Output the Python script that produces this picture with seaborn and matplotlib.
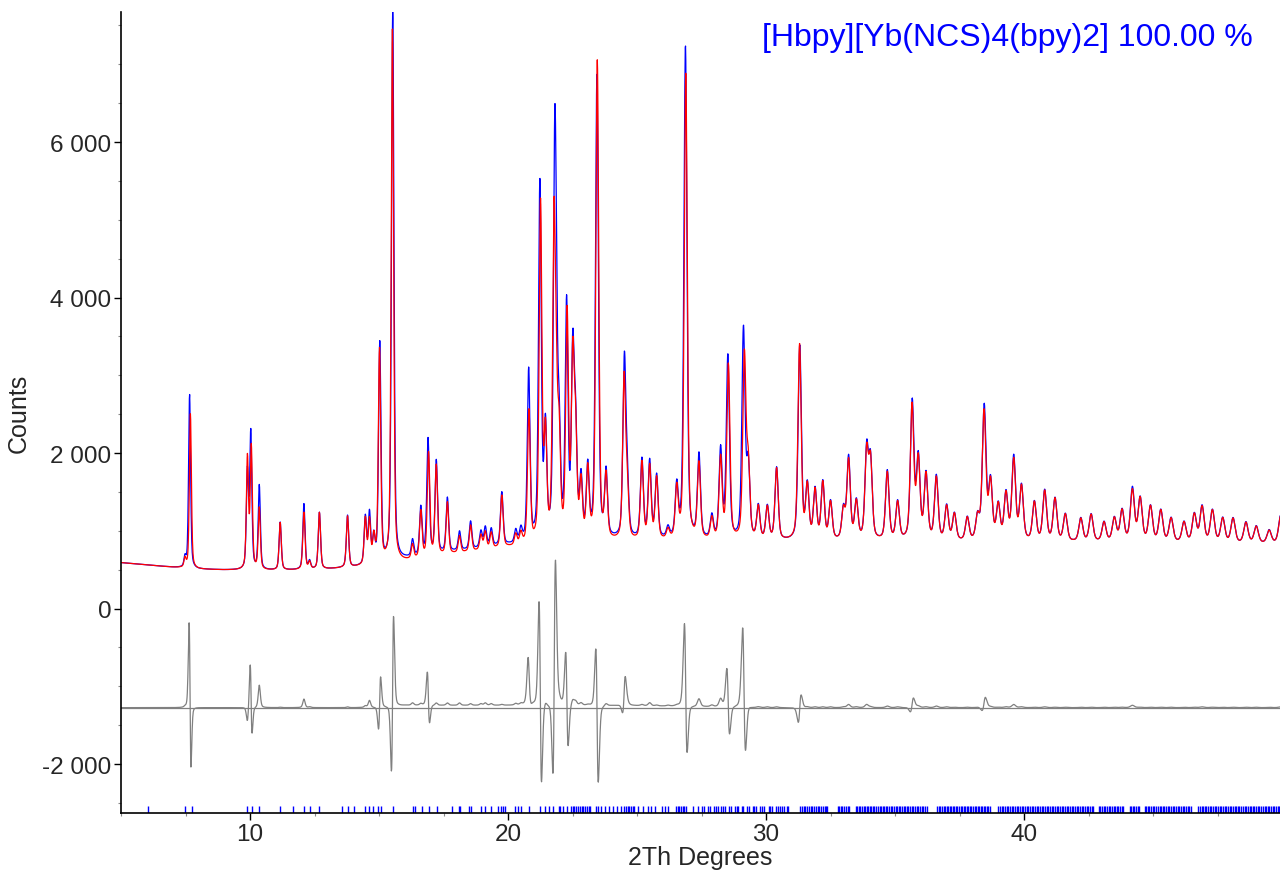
import numpy as np
import pandas as pd
import matplotlib
matplotlib.use("Agg")
import matplotlib.pyplot as plt
import seaborn as sns
from matplotlib.ticker import MultipleLocator, FuncFormatter

# ---------------- data ----------------
bg_x = [5, 6, 7, 8, 9, 10, 11, 12, 13, 14, 15, 16, 17, 18, 19, 20, 21, 22, 23,
        24, 26, 28, 30, 32, 34, 36, 38, 40, 42, 44, 46, 48, 50]
bg_calc = [590, 560, 530, 505, 495, 490, 490, 495, 505, 525, 560, 600, 650, 700,
           740, 780, 800, 820, 840, 850, 860, 860, 860, 860, 860, 860, 850, 850,
           850, 850, 840, 830, 830]
bg_obs = [590, 560, 530, 505, 495, 490, 490, 495, 505, 525, 565, 630, 680, 730,
          770, 810, 830, 850, 870, 880, 880, 870, 860, 860, 860, 860, 850, 850,
          850, 850, 840, 830, 830]

# peak position (2Th), observed top, calculated top, observed shift
peak_pos = [7.48, 7.69, 9.90, 10.05, 10.36, 11.17, 12.09, 12.31, 12.69, 13.78,
            14.47, 14.63, 14.80, 15.02, 15.52, 16.30, 16.62, 16.92, 17.22, 17.65,
            18.12, 18.55, 18.95, 19.12, 19.35, 19.76, 20.30, 20.50, 20.81, 21.26,
            21.45, 21.78, 21.87, 21.98, 22.29, 22.51, 22.62, 22.83, 23.09, 23.46,
            23.80, 24.50, 24.62, 25.19, 25.49, 25.76, 26.20, 26.54, 26.89, 27.40,
            27.90, 28.24, 28.54, 29.16, 29.31, 29.70, 30.05, 30.41,
            31.30, 31.60, 31.90, 32.20, 32.50, 33.00, 33.20, 33.50, 33.90, 34.05,
            34.70, 35.10, 35.66, 35.90, 36.20, 36.60, 37.00, 37.30, 37.80, 38.20,
            38.45, 38.70, 39.00, 39.30, 39.60, 39.90, 40.40, 40.80, 41.20, 41.60,
            42.20, 42.60, 43.10, 43.50, 43.80, 44.20, 44.50, 44.90, 45.30, 45.70,
            46.20, 46.60, 46.90, 47.30, 47.70, 48.10, 48.60, 49.00, 49.50, 49.95]
peak_obs = [640, 2750, 1720, 2230, 1570, 1105, 1340, 600, 1230, 1190,
            1150, 1190, 880, 3380, 7670, 830, 1250, 2130, 1850, 1380,
            950, 1080, 950, 1000, 980, 1450, 950, 960, 3000, 5400,
            2200, 5300, 2500, 2100, 3800, 3150, 2150, 1580, 1730, 6800,
            1680, 3110, 1530, 1865, 1840, 1660, 990, 1510, 7200, 1930,
            1150, 2000, 3200, 3550, 1800, 1290, 1290, 1790,
            3350, 1550, 1500, 1600, 1350, 1250, 1920, 1350, 2000, 1850,
            1750, 1350, 2630, 1900, 1700, 1680, 1300, 1200, 1150, 1150,
            2570, 1600, 1300, 1450, 1920, 1550, 1350, 1500, 1400, 1200,
            1150, 1200, 1100, 1150, 1250, 1530, 1400, 1300, 1250, 1150,
            1100, 1200, 1300, 1250, 1150, 1150, 1100, 1050, 1000, 1200]
peak_calc = [630, 2500, 1920, 2050, 1280, 1100, 1230, 590, 1230, 1180,
             1130, 1100, 880, 3300, 7430, 800, 1230, 1980, 1820, 1350,
             920, 1060, 930, 970, 960, 1440, 930, 940, 2500, 5150,
             2150, 4700, 2300, 2050, 3700, 3080, 2100, 1550, 1720, 7000,
             1650, 2910, 1500, 1850, 1800, 1650, 980, 1500, 6850, 1830,
             1130, 1900, 3100, 3200, 1780, 1280, 1280, 1780,
             3370, 1540, 1490, 1590, 1340, 1240, 1880, 1340, 1960, 1840,
             1730, 1340, 2580, 1880, 1690, 1660, 1290, 1195, 1145, 1145,
             2500, 1590, 1295, 1440, 1880, 1540, 1345, 1490, 1395, 1195,
             1145, 1195, 1095, 1145, 1245, 1500, 1395, 1295, 1245, 1145,
             1095, 1195, 1290, 1245, 1145, 1145, 1095, 1045, 995, 1190]
peak_shift = [0, -0.032, 0, -0.02, 0, 0, 0, 0, 0, 0,
              0, 0, 0, 0.01, 0.012, 0, 0, -0.02, 0, 0,
              0, 0, 0, 0, 0, 0, 0, 0, -0.01, -0.025,
              0, 0.03, 0, 0, -0.02, 0, 0, 0, 0, -0.014,
              0, 0.01, 0, 0, 0, 0, 0, 0, -0.014, 0,
              0, 0, -0.02, -0.035, 0, 0, 0, 0,
              0.008, 0, 0, 0, 0, 0, 0, 0, 0, 0,
              0, 0, 0.006, 0, 0, 0, 0, 0, 0, 0,
              0.006, 0, 0, 0, 0, 0, 0, 0, 0, 0,
              0, 0, 0, 0, 0, 0, 0, 0, 0, 0,
              0, 0, 0, 0, 0, 0, 0, 0, 0, 0]

hkl_ticks = [
    6.04, 7.48, 7.74, 9.90, 10.09, 10.36, 11.17, 11.65, 12.09, 12.31, 12.69,
    13.56, 13.80, 14.02, 14.47, 14.61, 14.76, 14.98, 15.06, 15.53, 16.32, 16.39,
    16.65, 16.94, 17.24, 17.83, 18.10, 18.14, 18.49, 18.57, 18.95, 19.09, 19.34,
    19.61, 19.73, 19.81, 19.88, 20.28, 20.40, 20.50, 20.80, 21.24, 21.42, 21.57,
    21.76, 21.96, 22.03, 22.12, 22.29, 22.43, 22.50, 22.56, 22.63, 22.70, 22.78,
    22.85, 22.91, 22.98, 23.05, 23.12, 23.17, 23.40, 23.47, 23.62, 23.74, 23.91,
    24.06, 24.21, 24.36, 24.51, 24.58, 24.64, 24.70, 24.77, 24.83, 24.88, 25.05,
    25.22, 25.43, 25.56, 25.70, 25.95, 26.08, 26.21, 26.51, 26.58, 26.64, 26.71,
    26.77, 26.83, 26.88, 27.15, 27.36, 27.52, 27.60, 27.75, 27.83, 27.98, 28.05,
    28.12, 28.27, 28.35, 28.42, 28.56, 28.63, 28.78, 28.86, 28.93, 29.05, 29.12,
    29.25, 29.33, 29.48, 29.55, 29.62, 29.78, 29.86, 29.93, 30.10, 30.17, 30.25,
    30.38, 30.46, 30.55, 30.63, 30.71, 30.80, 30.86,
    31.33, 31.40, 31.46, 31.52, 31.60, 31.66, 31.73, 31.80, 31.86, 31.93, 32.00,
    32.06, 32.14, 32.20, 32.27, 32.33, 32.37,
    32.77, 32.83, 32.90, 32.96, 33.03, 33.10, 33.16, 33.22,
    33.48, 33.54, 33.60, 33.66, 33.72, 33.78, 33.84, 33.90, 33.96, 34.02, 34.08,
    34.14, 34.20, 34.26, 34.33, 34.40, 34.46, 34.52, 34.58, 34.64, 34.70, 34.77,
    34.83, 34.90, 34.96, 35.02, 35.08, 35.15, 35.21, 35.27, 35.33, 35.40, 35.46,
    35.52, 35.58, 35.65, 35.71, 35.78, 35.84, 35.90, 35.96, 36.03, 36.09, 36.16,
    36.22,
    36.64, 36.70, 36.76, 36.82, 36.88, 36.94, 37.00, 37.06, 37.12, 37.18, 37.24,
    37.30, 37.36, 37.42, 37.48, 37.54, 37.60, 37.66, 37.72, 37.78, 37.84, 37.90,
    37.96, 38.02, 38.08, 38.14, 38.20, 38.26, 38.32, 38.38, 38.44, 38.50, 38.56,
    38.62, 38.67,
    39.00, 39.06, 39.13, 39.19, 39.26, 39.33, 39.39, 39.46, 39.52, 39.58, 39.65,
    39.72, 39.78, 39.84, 39.91, 39.97, 40.04, 40.10, 40.17, 40.23, 40.29, 40.36,
    40.43, 40.49, 40.55, 40.62, 40.68, 40.75, 40.81, 40.88, 40.94, 41.01, 41.07,
    41.13, 41.20, 41.26, 41.33, 41.39, 41.46, 41.52, 41.58, 41.65, 41.71, 41.78,
    41.84, 41.91, 41.97, 42.04, 42.10, 42.17, 42.23, 42.30, 42.36, 42.43, 42.49,
    42.56, 42.62, 42.68,
    42.89, 42.95, 43.02, 43.08, 43.15, 43.21, 43.28, 43.34, 43.41, 43.47, 43.54,
    43.60, 43.66, 43.73, 43.79, 43.84,
    44.09, 44.15, 44.22, 44.28, 44.35, 44.41, 44.47,
    44.67, 44.73, 44.80, 44.86, 44.93, 44.99, 45.05, 45.12, 45.18, 45.25, 45.31,
    45.37, 45.44, 45.50, 45.57, 45.63, 45.70, 45.76, 45.82, 45.89, 45.95, 46.02,
    46.08, 46.15, 46.21, 46.28, 46.34, 46.41, 46.47,
    46.75, 46.81, 46.88, 46.94, 47.01, 47.07, 47.13, 47.20, 47.26, 47.33, 47.39,
    47.45, 47.52, 47.58, 47.65, 47.71, 47.78, 47.84, 47.90, 47.97, 48.03, 48.10,
    48.16, 48.23, 48.29, 48.35, 48.42, 48.48, 48.55, 48.61, 48.68, 48.74, 48.80,
    48.87, 48.93, 48.99, 49.06, 49.12, 49.19, 49.25, 49.32, 49.38, 49.45, 49.51,
    49.57, 49.64, 49.70, 49.77, 49.83, 49.89]

diff_offset = -1275
phase_label = "[Hbpy][Yb(NCS)4(bpy)2] 100.00 %"
x_label = "2Th Degrees"
y_label = "Counts"

# ---------------- profile built from the peak table ----------------
two_theta = np.arange(5.0, 50.0, 0.01)


def pseudo_voigt(x, c, w, eta=0.45):
    d = (x - c) / w
    return eta / (1 + 4 * d * d) + (1 - eta) * np.exp(-4 * np.log(2) * d * d)


calc = np.interp(two_theta, bg_x, bg_calc)
obs = np.interp(two_theta, bg_x, bg_obs)
for c, ho, hc, s in zip(peak_pos, peak_obs, peak_calc, peak_shift):
    w = 0.085 + 0.0025 * (c - 5)
    b = np.interp(c, bg_x, bg_calc)
    calc += (hc - b) * pseudo_voigt(two_theta, c, w)
    obs += (ho - b) * pseudo_voigt(two_theta, c + s, w)
diff = obs - calc + diff_offset

df = pd.DataFrame({"tt": two_theta, "obs": obs, "calc": calc, "diff": diff})

# ---------------- drawing ----------------
sns.set_style("ticks")
plt.rcParams["font.family"] = ["Liberation Sans", "DejaVu Sans"]

fig = plt.figure(figsize=(12.8, 8.79), dpi=100)
ax = fig.add_axes([121 / 1280, 65 / 879, 1159 / 1280, 801 / 879])

sns.lineplot(data=df, x="tt", y="obs", color="#0000FF", lw=0.9, ax=ax)
sns.lineplot(data=df, x="tt", y="calc", color="#FF0000", lw=0.9, ax=ax)
ax.axhline(diff_offset, color="#808080", lw=0.9)
sns.lineplot(data=df, x="tt", y="diff", color="#808080", lw=0.9, ax=ax)
sns.rugplot(x=hkl_ticks, height=0.0091, color="#0000FF", lw=0.9, ax=ax,
            expand_margins=False)

ax.set_xlim(5.0, 49.92)
ax.set_ylim(-2630, 7672)

ax.xaxis.set_major_locator(MultipleLocator(10))
ax.xaxis.set_minor_locator(MultipleLocator(2.5))
ax.yaxis.set_major_locator(MultipleLocator(2000))
ax.yaxis.set_minor_locator(MultipleLocator(500))
ax.yaxis.set_major_formatter(
    FuncFormatter(lambda v, p: f"{int(round(v)):,}".replace(",", " ")))

ax.tick_params(axis="both", which="major", labelsize=17.5, length=5,
               width=1.0, color="black", pad=2)
ax.tick_params(axis="both", which="minor", length=2.5, width=0.8,
               color="#888888")

for side in ("top", "right"):
    ax.spines[side].set_visible(False)
for side in ("left", "bottom"):
    ax.spines[side].set_linewidth(1.2)
    ax.spines[side].set_color("black")

ax.set_xlabel(x_label, fontsize=18, labelpad=0)
ax.set_ylabel(y_label, fontsize=18, labelpad=8)

fig.text(1253 / 1280, 1 - 38 / 879, phase_label, color="#0000FF",
         fontsize=23, ha="right", va="center")

fig.savefig("out.png", dpi=100)
